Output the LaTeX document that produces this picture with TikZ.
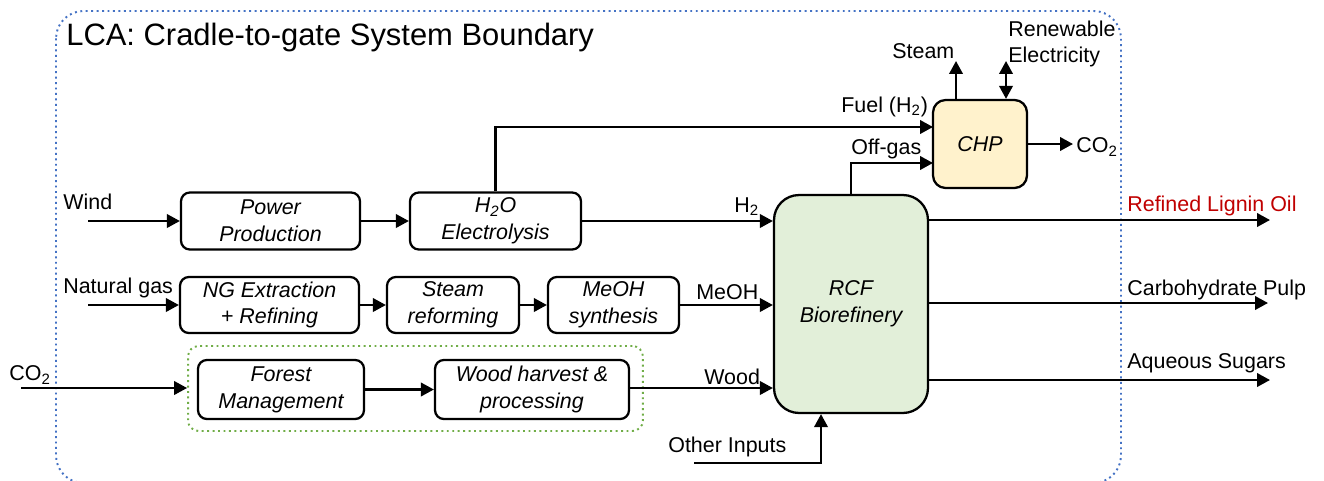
\documentclass[tikz,border=0pt]{standalone}
\usepackage{fontspec}
\setmainfont{Liberation Sans}
\usetikzlibrary{arrows.meta,positioning}
\definecolor{lcaBlue}{HTML}{4472C4}
\definecolor{lcaGreen}{HTML}{70AD47}
\definecolor{lcaRed}{HTML}{C00000}
\definecolor{lcaSoftGreen}{HTML}{E2EFD9}
\definecolor{lcaSoftAmber}{HTML}{FFF2CC}
\tikzset{
  procbox/.style={draw, line width=1.3pt, rounded corners=5pt, align=center, inner sep=0pt, font=\fontsize{12.2}{15.3}\selectfont\itshape},
  flowarrow/.style={-{Triangle[length=2.6mm,width=2.7mm]}, line width=1.3pt},
  flowboth/.style={{Triangle[length=2.6mm,width=2.7mm]}-{Triangle[length=2.6mm,width=2.7mm]}, line width=1.3pt},
  flowlabel/.style={anchor=west, inner sep=0pt, align=left, font=\fontsize{12.2}{15.3}\selectfont}
}
\begin{document}
\begin{tikzpicture}[x=0.02cm, y=-0.02cm]
    \useasboundingbox (0,0) rectangle (1324,480);
    % system boundary
    \draw[lcaBlue, dotted, line width=1.1pt, rounded corners=0.55cm] (56,11) rectangle (1121,483);
    \node[anchor=west, inner sep=0pt, font=\fontsize{17.6}{20}\selectfont] (title) at (66,38) {LCA: Cradle-to-gate System Boundary};
    % process boxes
    \node[procbox, minimum width=3.58cm, minimum height=1.14cm] (power) at (270.5,221) {Power\\Production};
    \node[procbox, minimum width=3.42cm, minimum height=1.14cm] (elec) at (495.5,221) {H\textsubscript{2}O\\Electrolysis};
    \node[procbox, minimum width=3.58cm, minimum height=1.12cm] (ngx) at (269.5,305) {NG Extraction\\+ Refining};
    \node[procbox, minimum width=2.64cm, minimum height=1.12cm] (steamref) at (453,305) {Steam\\reforming};
    \node[procbox, minimum width=2.62cm, minimum height=1.12cm] (meoh) at (613.5,305) {MeOH\\synthesis};
    \node[draw=lcaGreen, dotted, line width=1.1pt, rounded corners=6pt, minimum width=9.1cm, minimum height=1.7cm] (woodzone) at (415.5,388.5) {};
    \node[procbox, minimum width=3.32cm, minimum height=1.18cm] (forest) at (281,389.5) {Forest\\Management};
    \node[procbox, minimum width=3.88cm, minimum height=1.18cm] (harvest) at (532,389.5) {Wood harvest \&\\processing};
    \node[procbox, fill=lcaSoftGreen, rounded corners=0.5cm, minimum width=3.08cm, minimum height=4.36cm] (rcf) at (851,304) {RCF\\Biorefinery};
    \node[procbox, fill=lcaSoftAmber, rounded corners=0.25cm, minimum width=1.88cm, minimum height=1.76cm] (chp) at (980,144) {CHP};
    % free ends
    \coordinate (windin) at (88,221);
    \coordinate (ngin) at (88,305);
    \coordinate (co2in) at (21,388);
    \coordinate (otherin) at (694,463);
    \coordinate (fuelin) at (933,127);
    \coordinate (offgasin) at (933,163);
    \coordinate (co2out) at (1073,144);
    \coordinate (steamout) at (956,61);
    \coordinate (elecio) at (1006,61);
    \coordinate (ligout) at (1270,220);
    \coordinate (pulpout) at (1268,303);
    \coordinate (sugarout) at (1270,380);
    % flows
    \draw[flowarrow] (windin) -- (power);
    \draw[flowarrow] (power) -- (elec);
    \draw[flowarrow] (elec) -- (elec -| rcf.west);
    \draw[flowarrow] (elec.north) |- (fuelin);
    \draw[flowarrow] (rcf.north) |- (offgasin);
    \draw[flowarrow] (chp) -- (co2out);
    \draw[flowarrow] (chp.north -| steamout) -- (steamout);
    \draw[flowboth] (chp.north -| elecio) -- (elecio);
    \draw[flowarrow] (ngin) -- (ngx);
    \draw[flowarrow] (ngx) -- (steamref);
    \draw[flowarrow] (steamref) -- (meoh);
    \draw[flowarrow] (meoh) -- (meoh -| rcf.west);
    \draw[flowarrow] (co2in) -- (co2in -| woodzone.west);
    \draw[flowarrow] (forest) -- (harvest);
    \draw[flowarrow] (harvest.east |- co2in) -- (co2in -| rcf.west);
    \draw[flowarrow] (otherin) -| ([xshift=-0.6cm]rcf.south);
    \draw[flowarrow] (rcf.east |- ligout) -- (ligout);
    \draw[flowarrow] (rcf.east |- pulpout) -- (pulpout);
    \draw[flowarrow] (rcf.east |- sugarout) -- (sugarout);
    % labels
    \node[flowlabel] (windlbl) at (63,202) {Wind};
    \node[flowlabel] (nglbl) at (63,288) {Natural gas};
    \node[flowlabel] (co2inlbl) at (9,375) {CO\textsubscript{2}};
    \node[flowlabel] (h2lbl) at (734,207) {H\textsubscript{2}};
    \node[flowlabel] (meohlbl) at (696,292) {MeOH};
    \node[flowlabel] (woodlbl) at (704,377) {Wood};
    \node[flowlabel] (otherlbl) at (668,447) {Other Inputs};
    \node[flowlabel] (fuellbl) at (841,107) {Fuel (H\textsubscript{2})};
    \node[flowlabel] (offgaslbl) at (851,149) {Off-gas};
    \node[flowlabel] (steamlbl) at (892,51) {Steam};
    \node[flowlabel] (eleclbl) at (1008,44) {Renewable\\Electricity};
    \node[flowlabel] (co2outlbl) at (1076,147) {CO\textsubscript{2}};
    \node[flowlabel, text=lcaRed] (liglbl) at (1127,206) {Refined Lignin Oil};
    \node[flowlabel] (pulplbl) at (1127,290) {Carbohydrate Pulp};
    \node[flowlabel] (sugarlbl) at (1127,363) {Aqueous Sugars};
  \end{tikzpicture}
\end{document}
